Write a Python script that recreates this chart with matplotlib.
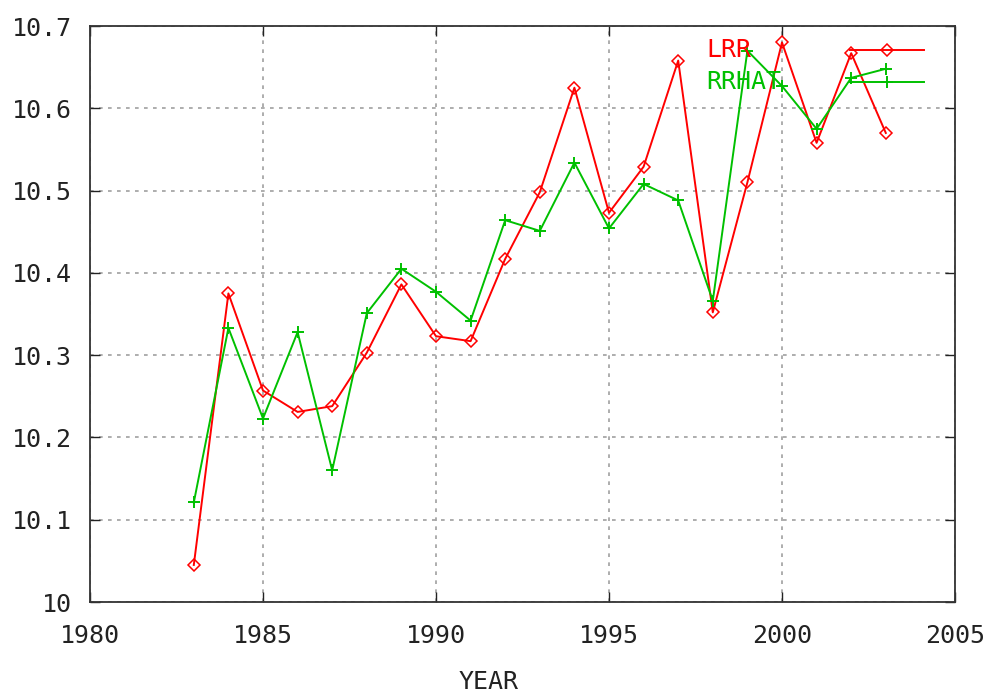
import matplotlib
matplotlib.use("Agg")
import matplotlib.pyplot as plt

years = [1983, 1984, 1985, 1986, 1987, 1988, 1989, 1990, 1991, 1992, 1993,
         1994, 1995, 1996, 1997, 1998, 1999, 2000, 2001, 2002, 2003]
lrr = [10.045, 10.375, 10.257, 10.231, 10.238, 10.303, 10.386, 10.323, 10.317,
       10.417, 10.498, 10.625, 10.473, 10.529, 10.658, 10.352, 10.510, 10.680,
       10.558, 10.667, 10.570]
rrhat = [10.121, 10.333, 10.223, 10.328, 10.160, 10.351, 10.405, 10.377, 10.342,
         10.464, 10.451, 10.534, 10.454, 10.508, 10.488, 10.366, 10.670, 10.627,
         10.575, 10.637, 10.648]
series_names = ["LRR", "RRHAT"]
xticks = [1980, 1985, 1990, 1995, 2000, 2005]
yticks = [10.0, 10.1, 10.2, 10.3, 10.4, 10.5, 10.6, 10.7]
ytick_labels = ["10", "10.1", "10.2", "10.3", "10.4", "10.5", "10.6", "10.7"]

RED = "#ff0000"
GREEN = "#00c000"
FONT = "DejaVu Sans Mono"
FS = 18

fig = plt.figure(figsize=(9.87, 6.93), dpi=100)
ax = fig.add_axes([90/987, 1-602/693, 865/987, 576/693])

styles = [
    dict(color=RED, lw=1.4, marker="D", markersize=6, markerfacecolor="none",
         markeredgecolor=RED, markeredgewidth=1.1),
    dict(color=GREEN, lw=1.4, marker="+", markersize=9, markeredgewidth=1.4),
]
for vals, name, st in zip([lrr, rrhat], series_names, styles):
    ax.plot(years, vals, label=name, **st)

ax.set_xlim(1980, 2005)
ax.set_ylim(10.0, 10.7)
ax.set_xticks(xticks)
ax.set_yticks(yticks)
ax.set_xticklabels([str(x) for x in xticks], fontfamily=FONT, fontsize=FS, color="#222222")
ax.set_yticklabels(ytick_labels, fontfamily=FONT, fontsize=FS, color="#222222")
ax.tick_params(direction="in", length=7, width=1.0, top=True, right=True,
               color="#222222")
ax.tick_params(axis="y", pad=13)
ax.tick_params(axis="x", pad=16)
ax.grid(True, color="#a0a0a0", linestyle=(0, (2.2, 3.2)), linewidth=1.2)
for s in ax.spines.values():
    s.set_color("#333333")
    s.set_linewidth(1.3)

# gnuplot-style key: left-aligned text, sample line with one point in the middle
key_rows_y = [(602-50)/576, (602-82)/576]
tx = (706-90)/865
sx0, sx1 = (850-90)/865, (924-90)/865
for name, st, ky in zip(series_names, styles, key_rows_y):
    ax.text(tx, ky, name, transform=ax.transAxes, fontfamily=FONT, fontsize=FS,
            color=st["color"], ha="left", va="center")
    ax.plot([sx0, sx1], [ky, ky], transform=ax.transAxes, color=st["color"],
            lw=st["lw"], clip_on=False)
    mst = {k: v for k, v in st.items() if k != "lw"}
    ax.plot([(sx0+sx1)/2], [ky], transform=ax.transAxes, linestyle="none",
            clip_on=False, **mst)

fig.text(489/987, 1-682/693, "YEAR", fontfamily=FONT, fontsize=FS,
         color="#222222", ha="center", va="center")

fig.savefig("out.png", dpi=100)
